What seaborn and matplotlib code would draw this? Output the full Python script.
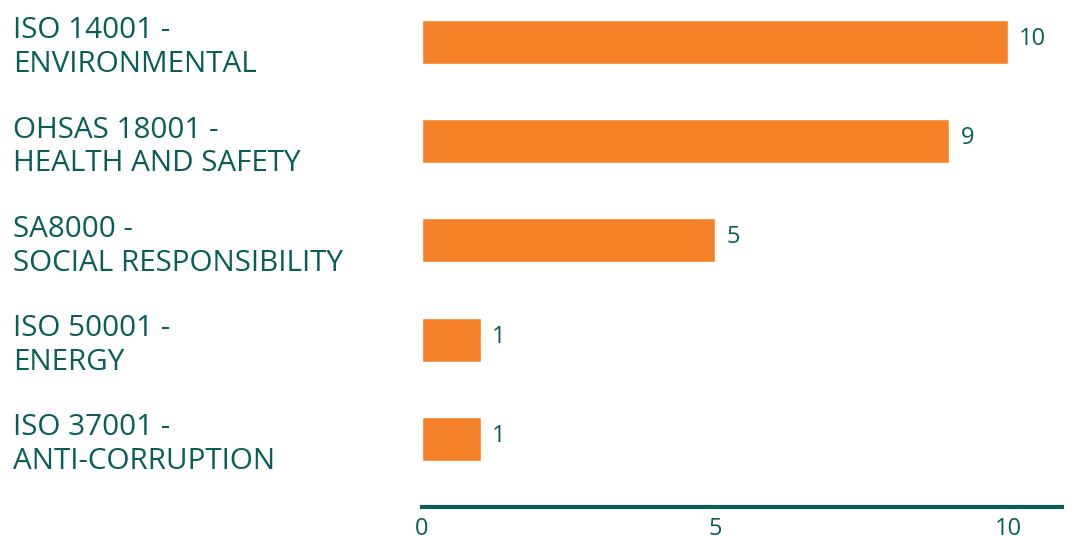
import matplotlib
matplotlib.use("Agg")
import matplotlib.pyplot as plt
import seaborn as sns
import pandas as pd

categories = [
    "ISO 14001 -\nENVIRONMENTAL",
    "OHSAS 18001 -\nHEALTH AND SAFETY",
    "SA8000 -\nSOCIAL RESPONSIBILITY",
    "ISO 50001 -\nENERGY",
    "ISO 37001 -\nANTI-CORRUPTION",
]
counts = [10, 9, 5, 1, 1]
x_ticks = [0, 5, 10]

ORANGE = "#F58228"
TEAL = "#0B5D58"

sns.set_theme(style="white")
plt.rcParams["font.family"] = ["Open Sans", "DejaVu Sans"]

df = pd.DataFrame({"standard": categories, "count": counts})

fig = plt.figure(figsize=(10.72, 5.39), dpi=100)
ax = fig.add_axes([422 / 1072, 32 / 539, (1062 - 422) / 1072, 507 / 539])

sns.barplot(data=df, y="standard", x="count", orient="h", color=ORANGE,
            saturation=1, width=0.445, ax=ax)

ax.set_xlim(0, 10.92)
ax.set_ylim(4.685, -0.42)
ax.set_xlabel("")
ax.set_ylabel("")

for i, v in enumerate(counts):
    ax.text(v + 0.19, i - 0.03, str(v), va="center", ha="left",
            fontsize=17, color=TEAL)

ax.set_xticks(x_ticks)
ax.set_xticklabels([str(t) for t in x_ticks], fontsize=17, color=TEAL)
ax.tick_params(axis="x", length=0, pad=7)

ax.tick_params(axis="y", length=0, pad=409 * 72 / 100)
for lab in ax.get_yticklabels():
    lab.set_ha("left")
    lab.set_fontsize(21.3)
    lab.set_color(TEAL)
    lab.set_linespacing(1.22)

for side in ["top", "right", "left"]:
    ax.spines[side].set_visible(False)
ax.spines["bottom"].set_color(TEAL)
ax.spines["bottom"].set_linewidth(3)

fig.savefig("out.png", dpi=100, facecolor="white")
